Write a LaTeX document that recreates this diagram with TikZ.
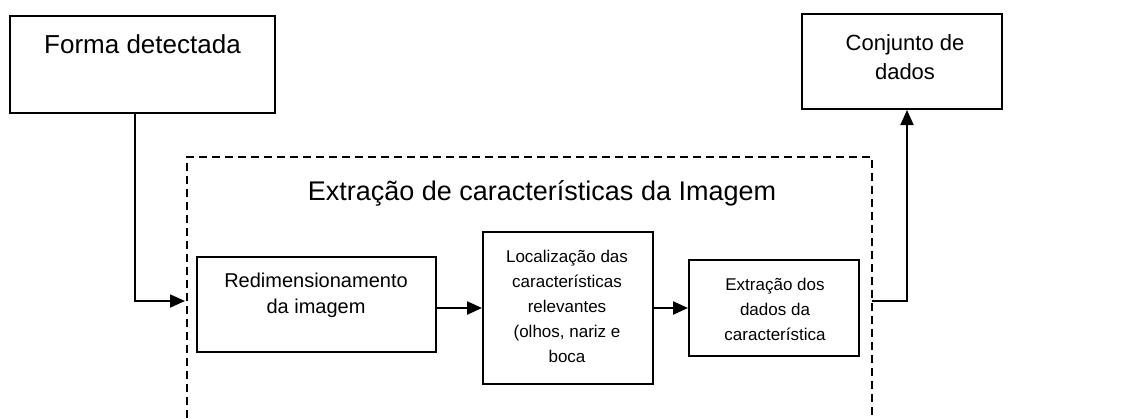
\documentclass[tikz,border=0pt]{standalone}
\usepackage{fontspec}
\setmainfont{Liberation Sans}
\usetikzlibrary{arrows.meta,calc}
\begin{document}
\begin{tikzpicture}[x=1pt,y=-1pt,
  box/.style={draw,line width=2pt,inner sep=0pt},
  conn/.style={line width=1.8pt,-{Triangle[length=15pt,width=13pt]}},
  dashbox/.style={line width=1.4pt,dash pattern=on 8pt off 5pt},
  txt/.style={inner sep=0pt,align=center,anchor=base}]
\useasboundingbox (0,0) rectangle (1147,418);
\fill[white] (0,0) rectangle (1147,418);
% boxes
\node[box,minimum width=265pt,minimum height=97pt] (forma) at (142.5,64.5) {};
\node[box,minimum width=200pt,minimum height=95pt] (conj) at (902,61.5) {};
\node[box,minimum width=239pt,minimum height=95pt] (redim) at (316.5,304.5) {};
\node[box,minimum width=170pt,minimum height=152pt] (local) at (568,308) {};
\node[box,minimum width=170pt,minimum height=96pt] (extr) at (774,308) {};
% texts (base anchor = last line baseline)
\node[txt,font=\fontsize{26}{30}\selectfont] (tforma) at (142.5,53) {Forma detectada};
\node[txt,font=\fontsize{22}{29}\selectfont] (tconj) at (905,79) {Conjunto de\\dados};
\node[txt,font=\fontsize{27}{32}\selectfont] (title) at (542,200) {Extração de características da Imagem};
\node[txt,font=\fontsize{20}{26}\selectfont] (tredim) at (316,313) {Redimensionamento\\da imagem};
\node[txt,font=\fontsize{17}{25}\selectfont] (tlocal) at (567,362) {Localização das\\características\\relevantes\\(olhos, nariz e\\boca};
\node[txt,font=\fontsize{17}{25}\selectfont] (textr) at (775,340) {Extração dos\\dados da\\característica};
% dashed frame (open at bottom)
\coordinate (dbl) at (187,418);
\coordinate (dtl) at (187,157);
\coordinate (dtr) at (872,157);
\coordinate (dbr) at (872,418);
\draw[dashbox] (dbl) -- (dtl) -- (dtr) -- (dbr);
\coordinate (inleft) at (185,301);
\coordinate (outright) at (872,301);
% connectors
\draw[conn] (forma.south -| 135,0) |- (inleft);
\draw[conn,line width=2.4pt] (redim.east |- local.west) -- (local.west);
\draw[conn,line width=2.4pt] (local.east) -- (extr.west);
\draw[conn] (outright) -| (conj.south -| 907,0);
\end{tikzpicture}
\end{document}
